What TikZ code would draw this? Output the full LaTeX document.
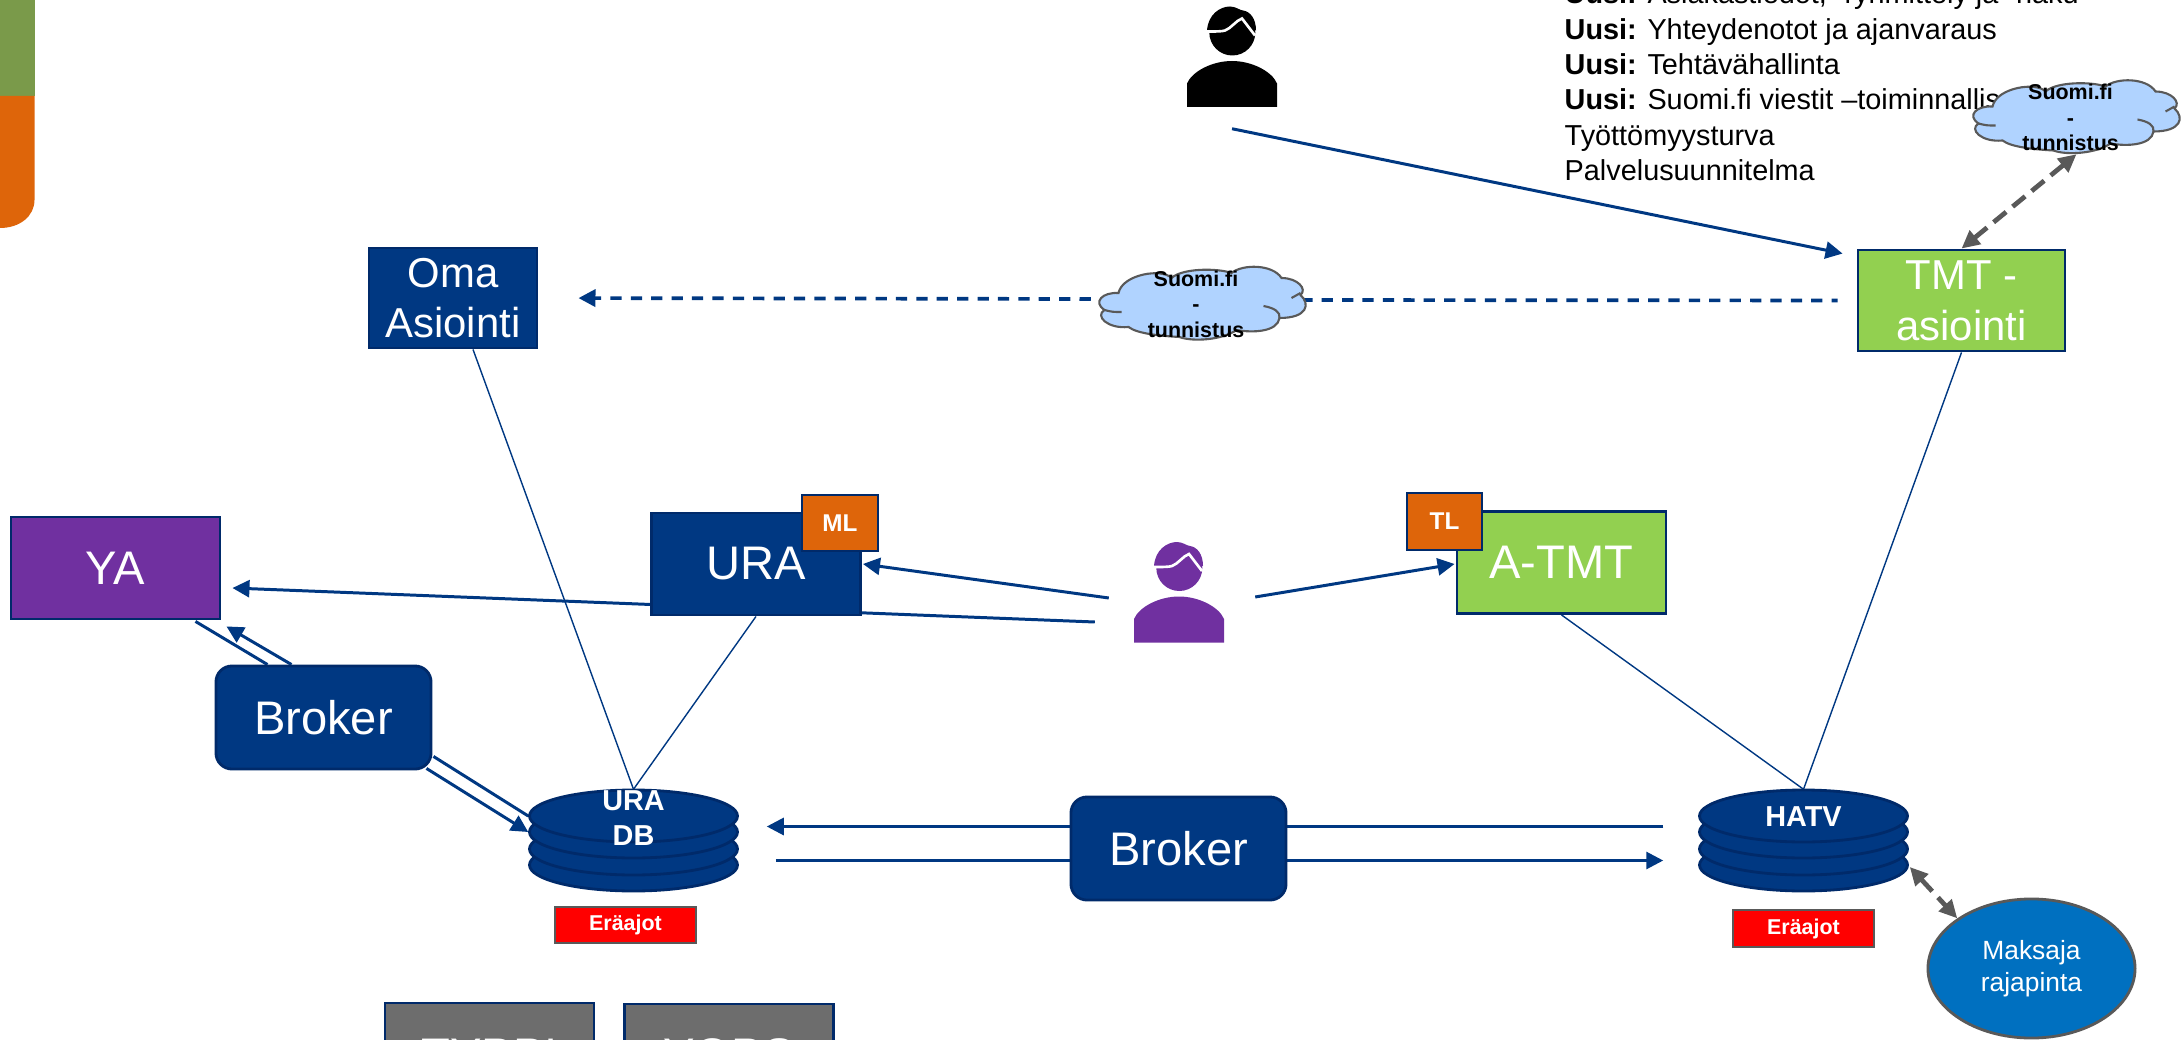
\documentclass[tikz,border=0pt]{standalone}
\usepackage{fontspec}
\setmainfont{Liberation Sans}
\usetikzlibrary{arrows.meta,backgrounds,shapes.geometric}

\definecolor{tummasin}{HTML}{003882}
\definecolor{reuna}{HTML}{002A6A}
\definecolor{violetti}{HTML}{7030A0}
\definecolor{vihrea}{HTML}{92D050}
\definecolor{oranssi}{HTML}{DE650A}
\definecolor{oliivi}{HTML}{7A9A4A}
\definecolor{harmaa}{HTML}{6D6D6D}
\definecolor{viiva}{HTML}{595959}
\definecolor{pilvi}{HTML}{B0D3FF}
\definecolor{maksu}{HTML}{0070C0}

\tikzset{
  laatikko/.style={draw=reuna, line width=.8pt, text=white, align=center, inner sep=0pt,
    minimum width=2.09cm, minimum height=1.02cm, font=\fontsize{13.4}{16}\selectfont},
  pieni/.style={font=\fontsize{11.9}{14.5}\selectfont},
  merkki/.style={draw=reuna, line width=.8pt, fill=oranssi, text=white, inner sep=0pt,
    minimum width=.75cm, minimum height=.57cm, font=\fontsize{6.9}{8}\bfseries\selectfont},
  broker/.style={laatikko, fill=tummasin, rounded corners=.16cm, minimum width=2.15cm, minimum height=1.03cm},
  erajo/.style={draw=viiva, line width=.7pt, fill=red, text=white, inner sep=0pt,
    minimum width=1.41cm, minimum height=.36cm, font=\fontsize{6.1}{8}\bfseries\selectfont},
  levy/.style={inner sep=0pt, minimum width=2.09cm, minimum height=1.02cm},
  levyteksti/.style={text=white, align=center, inner sep=0pt, font=\fontsize{8.2}{10}\bfseries\selectfont},
  wolkki/.style={text=black, align=center, inner sep=0pt, minimum width=2.09cm, minimum height=.72cm,
    font=\fontsize{6.1}{7.25}\bfseries\selectfont},
  nuoli/.style={draw=tummasin, line width=.85pt, -{Triangle[length=.17cm,width=.17cm]}},
  jana/.style={draw=tummasin, line width=.85pt},
  ohut/.style={draw=tummasin, line width=.4pt},
  tupla/.style={draw=viiva, line width=1.35pt, dash pattern=on 4.6pt off 2.4pt,
    {Triangle[length=.18cm,width=.17cm]}-{Triangle[length=.18cm,width=.17cm]}},
  pics/henkilo/.style={code={
    \fill[#1] (0.3,-24) circle (23);
    \fill[#1] (-25,-26) .. controls (-24,-42) and (-12,-50) .. (-2,-50)
      .. controls (4,-50) and (8,-46) .. (11,-46) .. controls (18,-45) and (24,-38) .. (24,-26) -- cycle;
    \draw[white, line width=.75pt] (-25,-25) .. controls (-16,-25) and (-10,-25) .. (-7,-26)
      .. controls (-1,-28) and (4,-36) .. (10,-38) -- (23,-21);
    \fill[#1] (-45,50.5) -- (-45,27) .. controls (-40,15) and (-20,4.5) .. (0,4.5)
      .. controls (20,4.5) and (40,15) .. (45,27) -- (45,50.5) -- cycle;
  }},
  pics/wolk/.style={code={
    \draw[fill=pilvi, draw=viiva, line width=.6pt] (-84,-11) .. controls (-80,-30) and (-40,-36) .. (-31,-26)
      .. controls (-20,-36) and (15,-36) .. (29,-31) .. controls (40,-40) and (70,-40) .. (79,-26)
      .. controls (95,-26) and (105,-15) .. (98,-9) .. controls (108,0) and (105,14) .. (77,14)
      .. controls (75,28) and (50,29) .. (34,26) .. controls (20,36) and (-10,38) .. (-23,33)
      .. controls (-40,32) and (-65,30) .. (-74,23) .. controls (-95,25) and (-108,12) .. (-98,6)
      .. controls (-110,-2) and (-100,-12) .. (-84,-11) -- cycle;
    \draw[draw=viiva, line width=.6pt] (-98,6) .. controls (-90,8) .. (-81,8);
    \draw[draw=viiva, line width=.6pt] (89,-6) -- (98,-11);
    \draw[draw=viiva, line width=.6pt] (61,2) .. controls (72,4) and (78,8) .. (77,14);
  }},
  pics/levypino/.style={code={
    \foreach \y in {24,8,-9,-25}
      \draw[fill=tummasin, draw=reuna, line width=.8pt] (0,\y) ellipse (104 and 26);
  }}
}

\begin{document}
\begin{tikzpicture}[x=.01cm,y=-.01cm]
  \useasboundingbox (0,0) rectangle (2182,1040);

  % reunapalkki
  \fill[oliivi] (0,0) rectangle (34.5,96);
  \fill[oranssi] (0,96) -- (34.5,96) -- (34.5,200) .. controls (34.5,216) and (20,228) .. (0,228) -- cycle;

  % teksti
  \node[anchor=north west, align=left, inner sep=0pt, font=\fontsize{8.2}{10.07}\selectfont] (lista) at (1564,-18)
    {\textbf{Uusi:} Asiakastiedot, -ryhmittely ja -haku\\
     \textbf{Uusi:} Yhteydenotot ja ajanvaraus\\
     \textbf{Uusi:} Tehtävähallinta\\
     \textbf{Uusi:} Suomi.fi viestit –toiminnallisuus\\
     Työttömyysturva\\
     Palvelusuunnitelma};

  % henkilot
  \node[inner sep=0pt, minimum width=.91cm, minimum height=1.01cm] (asiakas) at (1232,56.5) {};
  \pic at (asiakas) {henkilo=black};
  \node[inner sep=0pt, minimum width=.91cm, minimum height=1.01cm] (virkailija) at (1179,592) {};
  \pic at (virkailija) {henkilo=violetti};

  % laatikot
  \node[laatikko, font=\fontsize{11.9}{14}\selectfont, fill=tummasin, minimum width=1.68cm, minimum height=1cm] (oma) at (453,298) {Oma\\Asiointi};
  \node[laatikko, pieni, fill=vihrea, minimum width=2.07cm, minimum height=1.01cm] (tmt) at (1961.5,300.5) {TMT -\\asiointi};
  \node[laatikko, fill=violetti] (ya) at (115.5,568) {YA};
  \node[laatikko, fill=tummasin] (ura) at (756,564) {URA};
  \node[merkki, minimum width=.76cm, minimum height=.56cm] (ml) at (840,523) {ML};
  \node[laatikko, fill=vihrea] (atmt) at (1561.5,562.5) {A-TMT};
  \node[merkki] (tl) at (1444.5,521.5) {TL};
  \node[broker] (brokerv) at (323.5,717.5) {Broker};
  \node[broker] (brokerk) at (1178.5,848.5) {Broker};
  \node[laatikko, fill=harmaa, minimum height=1.05cm] (typpi) at (489.5,1055.5) {TYPPI};
  \node[laatikko, fill=harmaa, minimum height=1.03cm] (yops) at (729,1055.5) {YOPS};

  % levyt
  \node[levy] (uradb) at (633.5,841) {};
  \pic at (uradb) {levypino};
  \node[levyteksti] (uradbteksti) at (633.5,818) {URA\\DB};
  \node[levy] (hatv) at (1803.5,841) {};
  \pic at (hatv) {levypino};
  \node[levyteksti] (hatvteksti) at (1803.5,817) {HATV};
  \node[erajo] (erauradb) at (625.5,925) {Eräajot};
  \node[erajo, minimum height=.37cm] (erahatv) at (1803.5,928.5) {Eräajot};
  \node[ellipse, draw=viiva, line width=.8pt, fill=maksu, text=white, align=center, inner sep=0pt,
    minimum width=2.07cm, minimum height=1.39cm, font=\fontsize{7.5}{9.1}\selectfont] (maksaja) at (2031.5,968.5) {Maksaja\\rajapinta};

  % pilvet
  \pic at (2076.5,117.5) {wolk};
  \node[wolkki] (wolka) at (2070.5,117.5) {Suomi.fi\\-\\tunnistus};
  \pic at (1202.5,304) {wolk};
  \node[wolkki] (wolkb) at (1196,304) {Suomi.fi\\-\\tunnistus};

  % yhteydet
  \begin{scope}[on background layer]
    \draw[nuoli] ([shift={(0,21)}]asiakas.south) -- ([shift={(-14,5)}]tmt.north west);
    \draw[nuoli, line width=1.05pt, dash pattern=on 3.2pt off 2.6pt, shorten >=.4cm] ([shift={(0,-5)}]wolkb.west) -- (oma.east);
    \draw[jana, line width=1.05pt, dash pattern=on 3.2pt off 2.6pt, shorten >=.19cm] ([shift={(0,-4)}]wolkb.east) -- (tmt.west);
    \draw[nuoli] ([shift={(-38,30)}]virkailija.west) -- ([shift={(11,20)}]ya.east);
    \draw[nuoli] ([shift={(-24,6)}]virkailija.west) -- ([shift={(1,0)}]ura.east);
    \draw[nuoli] ([shift={(30,5)}]virkailija.east) -- ([shift={(-1,1.5)}]atmt.west);
    \draw[ohut] ([shift={(20,0)}]oma.south) -- (uradb.north);
    \draw[ohut] (ura.south) -- (uradb.north);
    \draw[ohut] (atmt.south) -- (hatv.north);
    \draw[ohut] (tmt.south) -- (hatv.north);
    \draw[jana] ([shift={(-56,0)}]brokerv.north) -- ([shift={(-26,1)}]ya.south east);
    \draw[nuoli] ([shift={(-32,0)}]brokerv.north) -- ([shift={(5,6)}]ya.south east);
    \draw[jana] ([shift={(1,-14)}]brokerv.south east) -- ([shift={(0,-25)}]uradb.west);
    \draw[nuoli] ([shift={(-6,-2)}]brokerv.south east) -- ([shift={(0,-9)}]uradb.west);
    \draw[nuoli] ([shift={(-35,-14.5)}]hatv.west) -- ([shift={(28,-14.5)}]uradb.east);
    \draw[nuoli] ([shift={(37,19.5)}]uradb.east) -- ([shift={(-35,19.5)}]hatv.west);
  \end{scope}
  \draw[tupla] (tmt.north) -- ([shift={(6,0)}]wolka.south);
  \draw[tupla] ([shift={(1,26)}]hatv.east) -- (maksaja.north west);
\end{tikzpicture}
\end{document}
